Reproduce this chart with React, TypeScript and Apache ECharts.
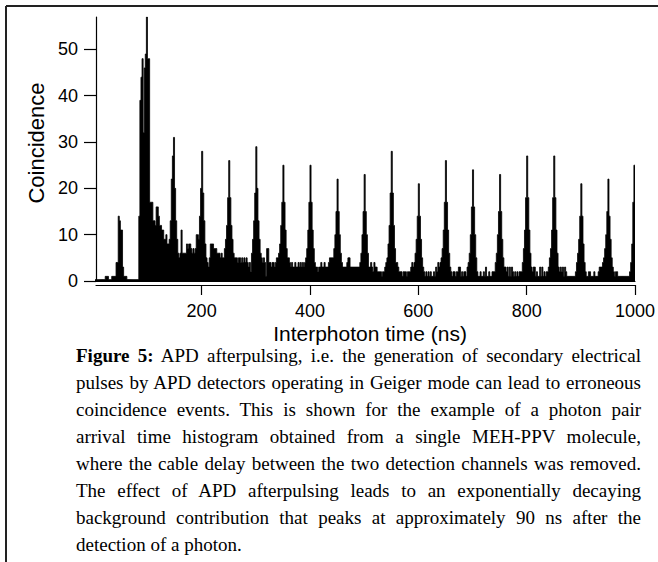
import React, { useEffect, useRef } from "react";
import * as echarts from "echarts";

// Histogram counts, 2 ns bins; each array covers 100 ns (bin start = segment start + 2*k)
const seg000 = [
  0.3, 0.3, 0.3, 0.3, 0.3, 0.3, 0.3, 0.3, 0.3, 0.3,
  0.3, 1, 1, 1, 0.3, 0.3, 0.3, 1, 1, 1,
  1, 4, 4, 14, 13, 11, 11, 3, 1, 1,
  1, 0.3, 0.3, 0.3, 0.3, 0.3, 0.3, 0.3, 0.3, 0.3,
  0.3, 0.3, 14, 39, 44, 48, 32, 46, 49, 57,
];
const seg100 = [
  48, 48, 17, 17, 17, 13, 13, 12, 16, 16,
  14, 12, 12, 11, 11, 9, 9, 10, 8, 8,
  9, 13, 22, 27, 31, 20, 13, 9, 6, 5,
  6, 11, 6, 6, 6, 6, 8, 7, 8, 8,
  7, 6, 7, 6, 7, 10, 10, 9, 14, 20,
];
const seg200 = [
  28, 19, 13, 8, 5, 4, 3, 5, 8, 8,
  8, 7, 7, 7, 6, 6, 6, 5, 6, 5,
  5, 7, 9, 12, 18, 26, 18, 12, 9, 6,
  5, 5, 5, 4, 5, 5, 4, 5, 4, 5,
  4, 5, 4, 3, 4, 2, 6, 9, 13, 19,
];
const seg300 = [
  29, 20, 13, 9, 6, 5, 4, 5, 4, 1,
  7, 7, 4, 4, 3, 4, 4, 3, 4, 5,
  5, 6, 8, 12, 17, 25, 17, 11, 7, 5,
  5, 4, 3, 4, 3, 3, 4, 3, 3, 4,
  3, 4, 3, 4, 3, 4, 5, 7, 11, 17,
];
const seg400 = [
  25, 17, 11, 7, 4, 3, 3, 2, 3, 3,
  4, 3, 3, 4, 3, 3, 3, 4, 5, 5,
  5, 5, 7, 10, 15, 22, 15, 10, 6, 4,
  3, 3, 3, 3, 4, 5, 5, 3, 3, 3,
  3, 3, 3, 3, 3, 3, 4, 6, 10, 15,
];
const seg500 = [
  23, 15, 10, 6, 3, 3, 4, 3, 2, 4,
  3, 3, 2, 2, 2, 2, 1, 2, 2, 3,
  4, 5, 8, 12, 19, 28, 19, 12, 7, 4,
  4, 3, 2, 2, 2, 1, 2, 2, 2, 1,
  2, 2, 2, 3, 4, 3, 4, 6, 9, 14,
];
const seg600 = [
  21, 14, 9, 5, 3, 2, 1, 2, 1, 2,
  1, 2, 1, 1, 2, 1, 3, 2, 4, 3,
  4, 5, 7, 11, 17, 26, 17, 11, 6, 3,
  2, 1, 2, 2, 1, 2, 2, 3, 3, 1,
  2, 1, 2, 2, 1, 3, 4, 6, 10, 16,
];
const seg700 = [
  24, 16, 10, 5, 2, 1, 1, 2, 1, 1,
  2, 1, 3, 1, 1, 2, 1, 1, 2, 2,
  2, 4, 6, 10, 15, 23, 15, 9, 5, 3,
  3, 2, 3, 1, 3, 1, 3, 2, 1, 2,
  1, 2, 1, 2, 2, 2, 4, 7, 11, 18,
];
const seg800 = [
  27, 18, 11, 6, 3, 2, 3, 3, 1, 2,
  1, 1, 3, 1, 3, 1, 2, 1, 2, 2,
  3, 5, 7, 11, 18, 27, 18, 11, 6, 3,
  2, 3, 2, 3, 1, 3, 2, 1, 1, 1,
  1, 1, 1, 1, 1, 2, 4, 6, 9, 14,
];
const seg900 = [
  21, 14, 8, 4, 2, 1, 1, 2, 2, 1,
  1, 1, 2, 1, 1, 1, 2, 3, 3, 3,
  4, 5, 7, 10, 15, 22, 14, 9, 5, 3,
  2, 1, 2, 2, 1, 1, 1, 1, 1, 1,
  1, 1, 1, 1, 1, 2, 4, 8, 17, 25,
];
const segmentStarts = [0, 100, 200, 300, 400, 500, 600, 700, 800, 900];
const segments = [seg000, seg100, seg200, seg300, seg400, seg500, seg600, seg700, seg800, seg900];
const binWidth = 2;

const xTicks = [200, 400, 600, 800, 1000];
const yTicks = [0, 10, 20, 30, 40, 50];

const xTitle = "Interphoton time (ns)";
const yTitle = "Coincidence";

const captionLines = [
  "APD afterpulsing, i.e. the generation of secondary electrical",
  "pulses by APD detectors operating in Geiger mode can lead to erroneous",
  "coincidence events. This is shown for the example of a photon pair",
  "arrival time histogram obtained from a single MEH-PPV molecule,",
  "where the cable delay between the two detection channels was removed.",
  "The effect of APD afterpulsing leads to an exponentially decaying",
  "background contribution that peaks at approximately 90 ns after the",
  "detection of a photon.",
];
const captionLabel = "Figure 5:";

const sans = "'Liberation Sans', Arial, Helvetica, sans-serif";
const serif = "'Liberation Serif', 'Times New Roman', Times, serif";

export default function App() {
  const ref = useRef<HTMLDivElement>(null);

  useEffect(() => {
    if (!ref.current) return;
    const chart = echarts.init(ref.current, undefined, { renderer: "svg" });

    const data: number[][] = [];
    segments.forEach((seg, s) => {
      seg.forEach((v, k) => {
        data.push([segmentStarts[s] + k * binWidth, v]);
      });
    });
    data.push([1000, data[data.length - 1][1]]);

    const axisLineStyle = { color: "#000", width: 1.2 };

    chart.setOption({
      animation: false,
      backgroundColor: "#fff",
      grid: { left: 96, top: 17, width: 543, height: 264 },
      xAxis: [
        {
          type: "value",
          min: 5,
          max: 1000,
          position: "bottom",
          axisLine: { show: true, onZero: false, lineStyle: axisLineStyle },
          axisTick: { show: false },
          axisLabel: { show: false },
          splitLine: { show: false },
        },
        {
          type: "value",
          min: 5,
          max: 1000,
          position: "bottom",
          offset: 4,
          axisLine: { show: true, onZero: false, lineStyle: axisLineStyle },
          axisTick: {
            show: true,
            length: 10,
            customValues: xTicks,
            lineStyle: { color: "#000", width: 1.2 },
          },
          axisLabel: {
            customValues: xTicks,
            formatter: (v: number) => String(v),
            color: "#000",
            fontSize: 18,
            fontFamily: sans,
            margin: 17,
          },
          splitLine: { show: false },
        },
      ],
      yAxis: {
        type: "value",
        min: 0,
        max: 57,
        axisLine: { show: true, onZero: false, lineStyle: axisLineStyle },
        axisTick: {
          show: true,
          length: 12,
          customValues: yTicks,
          lineStyle: { color: "#000", width: 1.2 },
        },
        axisLabel: {
          customValues: yTicks,
          formatter: (v: number) => String(v),
          color: "#000",
          fontSize: 18,
          fontFamily: sans,
          margin: 18,
        },
        splitLine: { show: false },
      },
      series: [
        {
          type: "line",
          xAxisIndex: 0,
          step: "end",
          data,
          symbol: "none",
          clip: true,
          lineStyle: { color: "#000", width: 0.8 },
          areaStyle: { color: "#000", opacity: 1 },
        },
      ],
      graphic: [
        {
          type: "line",
          shape: { x1: 6, y1: 6, x2: 658, y2: 6 },
          style: { stroke: "#222", lineWidth: 2 },
        },
        {
          type: "line",
          shape: { x1: 6, y1: 6, x2: 6, y2: 562 },
          style: { stroke: "#222", lineWidth: 2 },
        },
        {
          type: "text",
          x: 370,
          y: 333,
          style: {
            text: xTitle,
            fill: "#000",
            font: `21px ${sans}`,
            textAlign: "center",
            textVerticalAlign: "middle",
          },
        },
        {
          type: "text",
          x: 36,
          y: 143,
          rotation: Math.PI / 2,
          style: {
            text: yTitle,
            fill: "#000",
            font: `22px ${sans}`,
            textAlign: "center",
            textVerticalAlign: "middle",
          },
        },
      ],
    });

    return () => chart.dispose();
  }, []);

  return (
    <div style={{ position: "absolute", left: 0, top: 0, width: 658, height: 562, background: "#fff" }}>
      <div ref={ref} style={{ position: "absolute", left: 0, top: 0, width: 658, height: 562 }} />
      <div
        style={{
          position: "absolute",
          left: 76,
          top: 342,
          width: 565,
          fontFamily: serif,
          fontSize: 19,
          color: "#000",
        }}
      >
        {captionLines.map((line, i) => (
          <div
            key={i}
            style={{
              height: 27,
              lineHeight: "27px",
              textAlign: i === captionLines.length - 1 ? "left" : "justify",
              textAlignLast: i === captionLines.length - 1 ? "left" : "justify",
              whiteSpace: "normal",
            }}
          >
            {i === 0 ? (
              <>
                <b>{captionLabel}</b> {line}
              </>
            ) : (
              line
            )}
          </div>
        ))}
      </div>
    </div>
  );
}
